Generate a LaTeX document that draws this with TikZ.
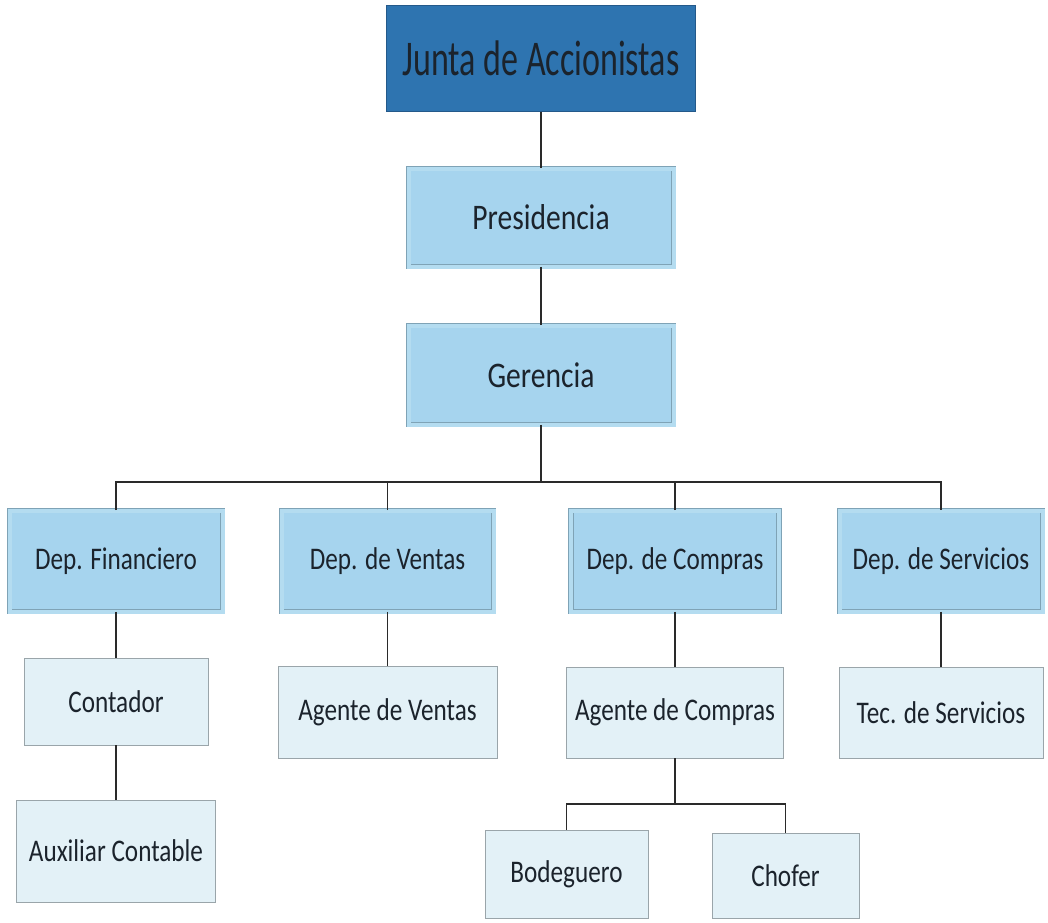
\documentclass[tikz,border=0pt]{standalone}
\usepackage{fontspec}
\setmainfont{Carlito}
\usepackage{graphicx}
\definecolor{juntafill}{HTML}{2E74B0}
\definecolor{juntaedge}{HTML}{24598A}
\definecolor{midfill}{HTML}{A6D4EE}
\definecolor{midedge}{HTML}{7FA3B6}
\definecolor{midgap}{HTML}{B4DCF0}
\definecolor{lowfill}{HTML}{E3F1F7}
\definecolor{lowedge}{HTML}{9AA5AA}
\definecolor{txt}{HTML}{1B232C}
\definecolor{linkc}{HTML}{2A2A2A}
\newcommand{\hsq}[2]{\scalebox{#1}[1]{#2}}
\tikzset{
  box/.style={inner sep=0pt, text=txt, align=center},
  topbox/.style={box, fill=juntafill, draw=juntaedge, line width=1pt,
    font=\fontsize{50}{50}\selectfont},
  midbox/.style={box, fill=midfill, draw=midedge, double=midgap,
    double distance=4pt, line width=0.8pt},
  lowbox/.style={box, fill=lowfill, draw=lowedge, line width=0.9pt,
    font=\fontsize{31.5}{31.5}\selectfont},
  bigtxt/.style={font=\fontsize{36}{36}\selectfont},
  deptxt/.style={font=\fontsize{31.5}{31.5}\selectfont},
  link/.style={draw=linkc, line width=1.4pt}
}
\begin{document}
\begin{tikzpicture}[x=1pt,y=-1pt]
\useasboundingbox (0,0) rectangle (1048,922);
\fill[white] (0,0) rectangle (1048,922);

% top levels
\node[topbox, minimum width=309, minimum height=106] (junta) at (541,58) {\hsq{0.68}{Junta de Accionistas}};
\node[midbox, bigtxt, minimum width=265, minimum height=98] (pres) at (541,217.5) {\hsq{0.82}{Presidencia}};
\node[midbox, bigtxt, minimum width=265, minimum height=99] (ger) at (541,375) {\hsq{0.82}{Gerencia}};

% departments
\node[midbox, deptxt, minimum width=213, minimum height=101] (fin) at (116,561) {\hsq{0.8}{Dep. Financiero}};
\node[midbox, deptxt, minimum width=212, minimum height=101] (ven) at (387.5,561) {\hsq{0.8}{Dep. de Ventas}};
\node[midbox, deptxt, minimum width=208, minimum height=101] (com) at (675,561) {\hsq{0.8}{Dep. de Compras}};
\node[midbox, deptxt, minimum width=203, minimum height=101] (srv) at (941,561) {\hsq{0.8}{Dep. de Servicios}};

% lower positions
\node[lowbox, minimum width=184, minimum height=87] (con) at (116,701.5) {\hsq{0.8}{Contador}};
\node[lowbox, minimum width=199, minimum height=102] (aux) at (116,851) {\hsq{0.8}{Auxiliar Contable}};
\node[lowbox, minimum width=219, minimum height=92] (agv) at (387.5,712) {\hsq{0.8}{Agente de Ventas}};
\node[lowbox, minimum width=217, minimum height=91] (agc) at (675,712.5) {\hsq{0.8}{Agente de Compras}};
\node[lowbox, minimum width=204, minimum height=91] (tec) at (941,712.5) {\hsq{0.8}{Tec. de Servicios}};
\node[lowbox, minimum width=163, minimum height=88] (bod) at (566.5,874) {\hsq{0.8}{Bodeguero}};
\node[lowbox, minimum width=147, minimum height=85] (cho) at (785.5,875.5) {\hsq{0.8}{Chofer}};

\coordinate (bus) at (0,482);
\coordinate (sub) at (0,804);

% connectors
\draw[link] (junta.south) -- (pres.north);
\draw[link] (pres.south) -- (ger.north);
\draw[link] (ger.south) -- (ger.south |- bus);
\draw[link] (fin.north) -- (fin.north |- bus) -- (srv.north |- bus) -- (srv.north);
\draw[link] (ven.north) -- (ven.north |- bus);
\draw[link] (com.north) -- (com.north |- bus);
\draw[link] (fin.south) -- (con.north);
\draw[link] (con.south) -- (aux.north);
\draw[link] (ven.south) -- (agv.north);
\draw[link] (com.south) -- (agc.north);
\draw[link] (srv.south) -- (tec.north);
\draw[link] (agc.south) -- (agc.south |- sub);
\draw[link] (bod.north) -- (bod.north |- sub) -- (cho.north |- sub) -- (cho.north);
\end{tikzpicture}
\end{document}
